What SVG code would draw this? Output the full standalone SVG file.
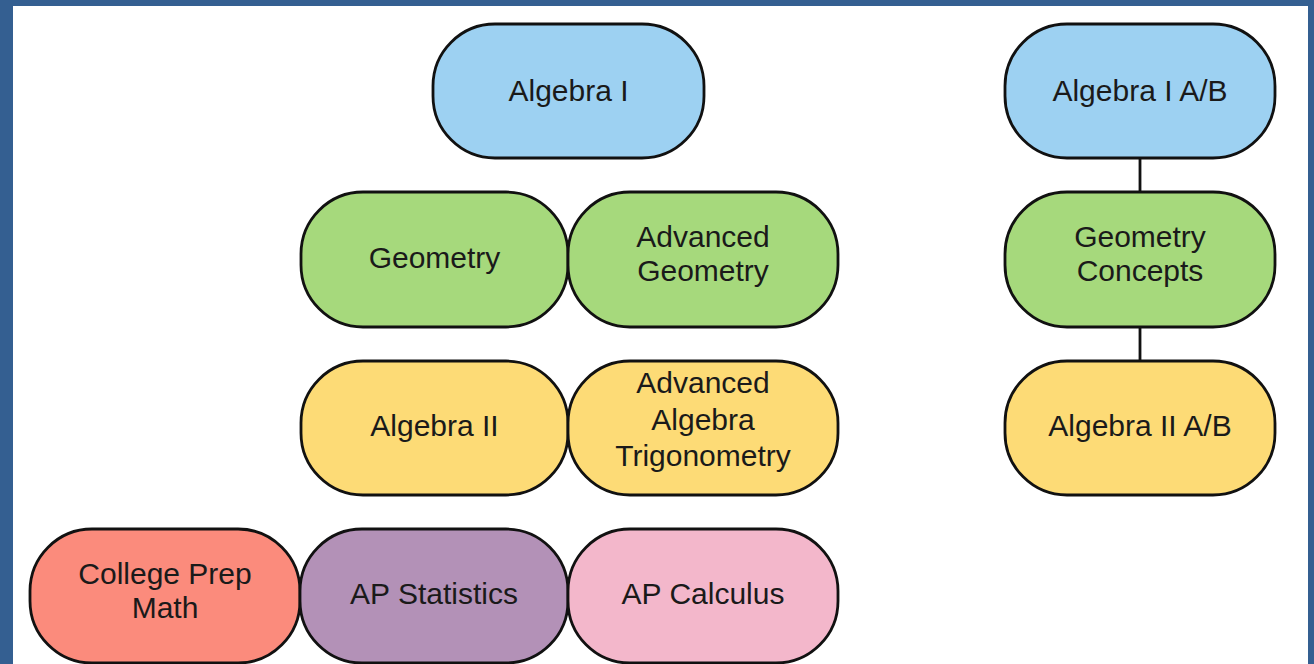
<svg xmlns="http://www.w3.org/2000/svg" width="1314" height="664" viewBox="0 0 1314 664">
<style>
.n{stroke:#111;stroke-width:2.8}
.t{font-family:"Liberation Sans",Arial,sans-serif;font-size:30px;fill:#1a1a1a;text-anchor:middle}
.blue{fill:#9dd1f2}.green{fill:#a6d97c}.yellow{fill:#fddb76}.red{fill:#fb8b7c}.purple{fill:#b391b7}.pink{fill:#f3b7cb}
.c{stroke:#111;stroke-width:2.8;fill:none}
</style>
<rect x="0" y="0" width="1314" height="664" fill="#345f91"/>
<rect x="13" y="6" width="1295" height="658" fill="#ffffff"/>
<g id="connectors">
<line class="c" x1="1140" y1="158" x2="1140" y2="192"/>
<line class="c" x1="1140" y1="327" x2="1140" y2="361"/>
</g>
<g id="algebra1"><rect class="n blue" x="433" y="24" width="271" height="134" rx="62"/><text class="t" x="568.5" y="101">Algebra I</text></g>
<g id="geometry"><rect class="n green" x="301" y="192" width="267" height="135" rx="62"/><text class="t" x="434.5" y="268">Geometry</text></g>
<g id="advgeometry"><rect class="n green" x="568" y="192" width="270" height="135" rx="62"/><text class="t" x="703" y="247">Advanced</text><text class="t" x="703" y="281">Geometry</text></g>
<g id="algebra2"><rect class="n yellow" x="301" y="361" width="267" height="134" rx="62"/><text class="t" x="434.5" y="436">Algebra II</text></g>
<g id="advalgtrig"><rect class="n yellow" x="568" y="361" width="270" height="134" rx="62"/><text class="t" x="703" y="393">Advanced</text><text class="t" x="703" y="430">Algebra</text><text class="t" x="703" y="466">Trigonometry</text></g>
<g id="collegeprep"><rect class="n red" x="30" y="529" width="270" height="134" rx="62"/><text class="t" x="165" y="584">College Prep</text><text class="t" x="165" y="618">Math</text></g>
<g id="apstat"><rect class="n purple" x="300" y="529" width="268" height="134" rx="62"/><text class="t" x="434" y="604">AP Statistics</text></g>
<g id="apcalc"><rect class="n pink" x="568" y="529" width="270" height="134" rx="62"/><text class="t" x="703" y="604">AP Calculus</text></g>
<g id="algebra1ab"><rect class="n blue" x="1005" y="24" width="270" height="134" rx="62"/><text class="t" x="1140" y="101">Algebra I A/B</text></g>
<g id="geomconcepts"><rect class="n green" x="1005" y="192" width="270" height="135" rx="62"/><text class="t" x="1140" y="247">Geometry</text><text class="t" x="1140" y="281">Concepts</text></g>
<g id="algebra2ab"><rect class="n yellow" x="1005" y="361" width="270" height="134" rx="62"/><text class="t" x="1140" y="436">Algebra II A/B</text></g>
</svg>
